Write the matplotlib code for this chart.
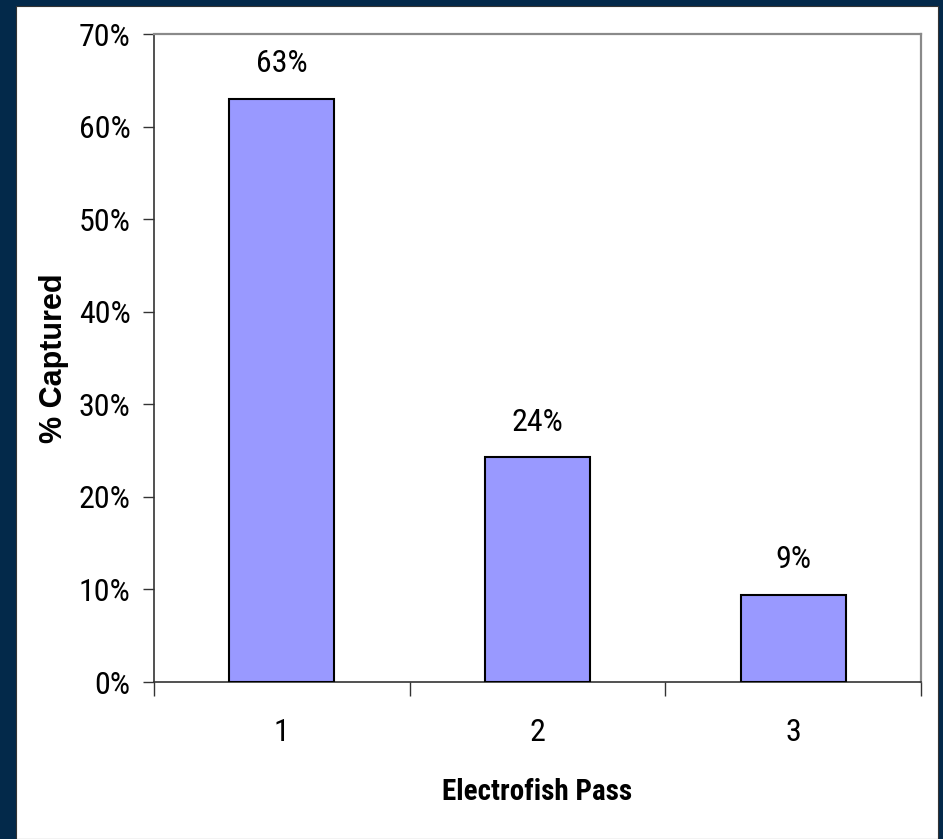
import matplotlib
matplotlib.use("Agg")
import matplotlib.pyplot as plt
from matplotlib.patches import Rectangle
from matplotlib.ticker import FixedLocator

# Share of fish captured on each electrofishing pass
passes = ["1", "2", "3"]
pct_captured = [63.0, 24.3, 9.45]
y_ticks = [0, 10, 20, 30, 40, 50, 60, 70]

W, H, DPI = 943, 839, 100
fig = plt.figure(figsize=(W / DPI, H / DPI), dpi=DPI, facecolor="#03294a")

# white slide panel inside the navy frame
fig.patches.append(Rectangle((16 / W, 0), (938 - 16) / W, (839 - 6) / H,
                             transform=fig.transFigure, facecolor="white",
                             edgecolor="#333333", linewidth=0.8, zorder=-5))

narrow = ["Liberation Sans Narrow", "Roboto Condensed", "Liberation Sans"]

left, right, top, bottom = 154, 921, 34, 682
ax = fig.add_axes([left / W, 1 - bottom / H, (right - left) / W, (bottom - top) / H])
ax.set_facecolor("white")
ax.set_zorder(2)

x = list(range(len(passes)))
bars = ax.bar(x, pct_captured, width=0.41, color="#9999ff",
              edgecolor="black", linewidth=1.5, zorder=3)

for xi, v in zip(x, pct_captured):
    ax.annotate(f"{round(v):d}%", (xi, v), xytext=(0, 19), textcoords="offset points",
                ha="center", va="baseline", fontsize=23, family=narrow)

ax.set_xlim(-0.5, len(passes) - 0.5)
ax.set_ylim(0, 70)

ax.set_yticks(y_ticks)
ax.set_yticklabels([f"{t}%" for t in y_ticks], family=narrow, fontsize=23)
ax.tick_params(axis="y", direction="out", length=8, width=1, color="#333333", pad=9)

ax.set_xticks(x)
ax.set_xticklabels(passes, family=narrow, fontsize=23)
ax.xaxis.set_minor_locator(FixedLocator([-0.5, 0.5, 1.5, 2.5]))
ax.tick_params(axis="x", which="major", length=0, pad=26)
ax.tick_params(axis="x", which="minor", direction="out", length=10, width=1, color="#333333")

ax.set_xlabel("Electrofish Pass", family=narrow, fontsize=21, fontweight="bold", labelpad=22)
ax.set_ylabel("% Captured", family=["Liberation Sans", "DejaVu Sans"], fontsize=22,
              fontweight="bold", labelpad=7)

for side in ("left", "bottom"):
    ax.spines[side].set_color("#333333")
    ax.spines[side].set_linewidth(1.2)
for side in ("top", "right"):
    ax.spines[side].set_color("#8a8a8a")
    ax.spines[side].set_linewidth(1.6)

fig.savefig("out.png", dpi=DPI, facecolor=fig.get_facecolor())
